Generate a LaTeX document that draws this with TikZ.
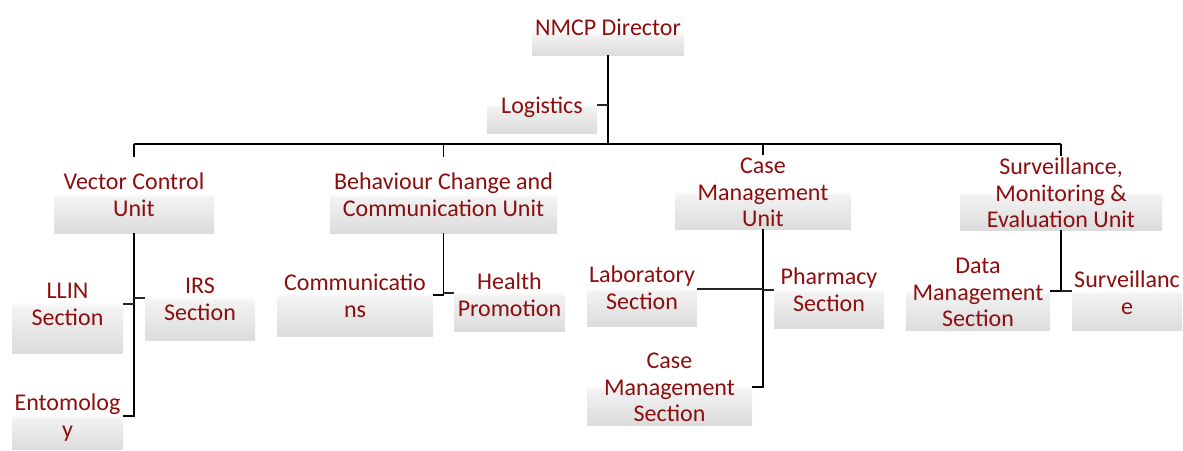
\documentclass[tikz,border=0pt]{standalone}
\usepackage{fontspec}
\setmainfont{Carlito}
\definecolor{txtred}{HTML}{8C0E0E}
\definecolor{boxlo}{HTML}{DCDCDC}
\definecolor{boxmid}{HTML}{F2F2F2}
% white upper half, grey fade in the lower half
\pgfdeclareverticalshading{boxfade}{100bp}{color(0bp)=(boxlo); color(25bp)=(boxlo); color(48bp)=(boxmid); color(51bp)=(white); color(100bp)=(white)}
\begin{document}
\begin{tikzpicture}[x=1pt,y=-1pt,
  box/.style={shading=boxfade, draw=none, inner sep=0pt, outer sep=0pt},
  txt/.style={text=txtred, align=center, anchor=north, inner sep=0pt,
    font=\fontsize{24}{26.5}\selectfont},
  link/.style={draw=black, line width=1.3pt},
  branch/.style={draw=black!85, line width=1.1pt}]
\useasboundingbox (0,0) rectangle (1183,450);

% boxes
\node[box, minimum width=152pt, minimum height=44pt] (nmcp) at (608,33) {};
\node[box, minimum width=110pt, minimum height=56pt] (logi) at (542,105) {};
\node[box, minimum width=160pt, minimum height=76pt] (vcu) at (134,195) {};
\node[box, minimum width=227pt, minimum height=76pt] (bcc) at (443.5,195) {};
\node[box, minimum width=176pt, minimum height=74pt] (cmu) at (763,192) {};
\node[box, minimum width=202pt, minimum height=74pt] (sme) at (1061,193) {};
\node[box, minimum width=111pt, minimum height=98pt] (llin) at (67.5,304) {};
\node[box, minimum width=110pt, minimum height=84pt] (irs) at (200,298) {};
\node[box, minimum width=111pt, minimum height=66pt] (ento) at (67.5,416) {};
\node[box, minimum width=156pt, minimum height=82pt] (comm) at (355,295) {};
\node[box, minimum width=111pt, minimum height=76pt] (hp) at (509.5,293) {};
\node[box, minimum width=110pt, minimum height=74pt] (lab) at (642,289) {};
\node[box, minimum width=110pt, minimum height=76pt] (pharm) at (829,290) {};
\node[box, minimum width=165pt, minimum height=76pt] (cms) at (669.5,387) {};
\node[box, minimum width=144pt, minimum height=78pt] (dms) at (978,291) {};
\node[box, minimum width=110pt, minimum height=78pt] (surv) at (1127,291) {};

% connectors
\coordinate (busL) at (134,144);
\coordinate (busR) at (1061,144);
\draw[link] (nmcp.south) -- (nmcp.south |- busL);
\draw[link] (busL) -- (busR);
\draw[branch] (logi.east) -- (logi.east -| nmcp.south);
\draw[link] (vcu.north |- busL) -- (vcu.north);
\draw[link] (bcc.north |- busL) -- (bcc.north);
\draw[link] (cmu.north |- busL) -- (cmu.north);
\draw[link] (sme.north |- busL) -- (sme.north);

\draw[link] (vcu.south) -- (vcu.south |- ento.east) -- (ento.east);
\draw[branch] (llin.east) -- (llin.east -| vcu.south);
\draw[branch] (irs.west) -- (irs.west -| vcu.south);

\draw[link] (bcc.south) -- (bcc.south |- comm.east) -- (comm.east);
\draw[branch] (hp.west) -- (hp.west -| bcc.south);

\draw[link] (cmu.south) -- (cmu.south |- cms.east) -- (cms.east);
\draw[branch] (lab.east) -- (lab.east -| cmu.south);
\draw[branch] (pharm.west) -- (pharm.west -| cmu.south);

\draw[link] (sme.south) -- (sme.south |- dms.east) -- (dms.east);
\draw[branch] (surv.west) -- (surv.west -| sme.south);

% labels
\node[txt] (nmcp-t) at (608,19) {NMCP Director};
\node[txt] (logi-t) at (542,97) {Logistics};
\node[txt] (vcu-t) at (134,173) {Vector Control\\Unit};
\node[txt] (bcc-t) at (443.5,173) {Behaviour Change and\\Communication Unit};
\node[txt] (cmu-t) at (763,158) {Case\\Management\\Unit};
\node[txt] (sme-t) at (1061,158) {Surveillance,\\Monitoring \&\\Evaluation Unit};
\node[txt] (llin-t) at (67.5,283) {LLIN\\Section};
\node[txt] (irs-t) at (200,278) {IRS\\Section};
\node[txt] (ento-t) at (67.5,394) {Entomolog\\y};
\node[txt] (comm-t) at (355,274) {Communicatio\\ns};
\node[txt] (hp-t) at (509.5,273) {Health\\Promotion};
\node[txt] (lab-t) at (642,266) {Laboratory\\Section};
\node[txt] (pharm-t) at (829,268) {Pharmacy\\Section};
\node[txt] (cms-t) at (669.5,353) {Case\\Management\\Section};
\node[txt] (dms-t) at (978,258) {Data\\Management\\Section};
\node[txt] (surv-t) at (1127,271) {Surveillanc\\e};
\end{tikzpicture}
\end{document}
